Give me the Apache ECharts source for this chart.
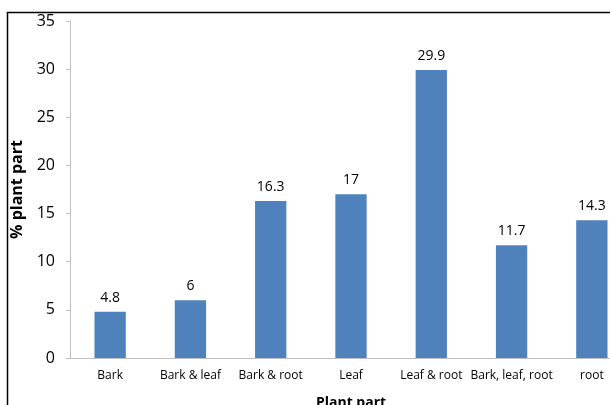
<!DOCTYPE html>
<html>
<head>
<meta charset="utf-8">
<script src="https://cdn.jsdelivr.net/npm/echarts@6/dist/echarts.min.js"></script>
<style>
  html, body { margin: 0; padding: 0; background: #fff; }
  #main { width: 610px; height: 405px; }
</style>
</head>
<body>
<div id="main"></div>
<script>
var categories = ['Bark', 'Bark & leaf', 'Bark & root', 'Leaf', 'Leaf & root', 'Bark, leaf, root', 'root']
var values = [4.8, 6, 16.3, 17, 29.9, 11.7, 14.3]

var myChart = echarts.init(document.getElementById('main'))
var font = 'Open Sans'
myChart.setOption({
  animation: false,
  graphic: [
    {
      type: 'rect',
      shape: { x: 7.5, y: 12.5, width: 640, height: 440 },
      style: { fill: 'none', stroke: '#000', lineWidth: 1.5 },
      silent: true
    }
  ],
  grid: { left: 70, top: 21, bottom: 47, right: -22, containLabel: false, outerBoundsMode: 'none' },
  xAxis: {
    type: 'category',
    data: categories,
    name: 'Plant part',
    nameLocation: 'middle',
    nameGap: 38,
    nameTextStyle: { fontFamily: font, fontWeight: 'bold', fontSize: 14, color: '#000' },
    axisLine: { lineStyle: { color: '#BFBFBF', width: 1 } },
    axisTick: { show: false },
    axisLabel: { interval: 0, fontFamily: font, fontSize: 12, color: '#000', margin: 12 }
  },
  yAxis: {
    type: 'value',
    min: 0,
    max: 35,
    interval: 5,
    name: '% plant part',
    nameLocation: 'middle',
    nameGap: 38,
    nameTextStyle: { fontFamily: font, fontWeight: 'bold', fontSize: 16, color: '#000' },
    axisLine: { show: true, lineStyle: { color: '#BFBFBF', width: 1 } },
    axisTick: { show: true, length: 4, lineStyle: { color: '#BFBFBF' } },
    splitLine: { show: false },
    axisLabel: { fontFamily: font, fontSize: 16, color: '#000', margin: 15 }
  },
  series: [
    {
      type: 'bar',
      data: values,
      barWidth: '39%',
      itemStyle: { color: '#4F81BD' },
      label: {
        show: true,
        position: 'top',
        distance: 7,
        fontFamily: font,
        fontSize: 14,
        color: '#000'
      }
    }
  ]
})
</script>
</body>
</html>
